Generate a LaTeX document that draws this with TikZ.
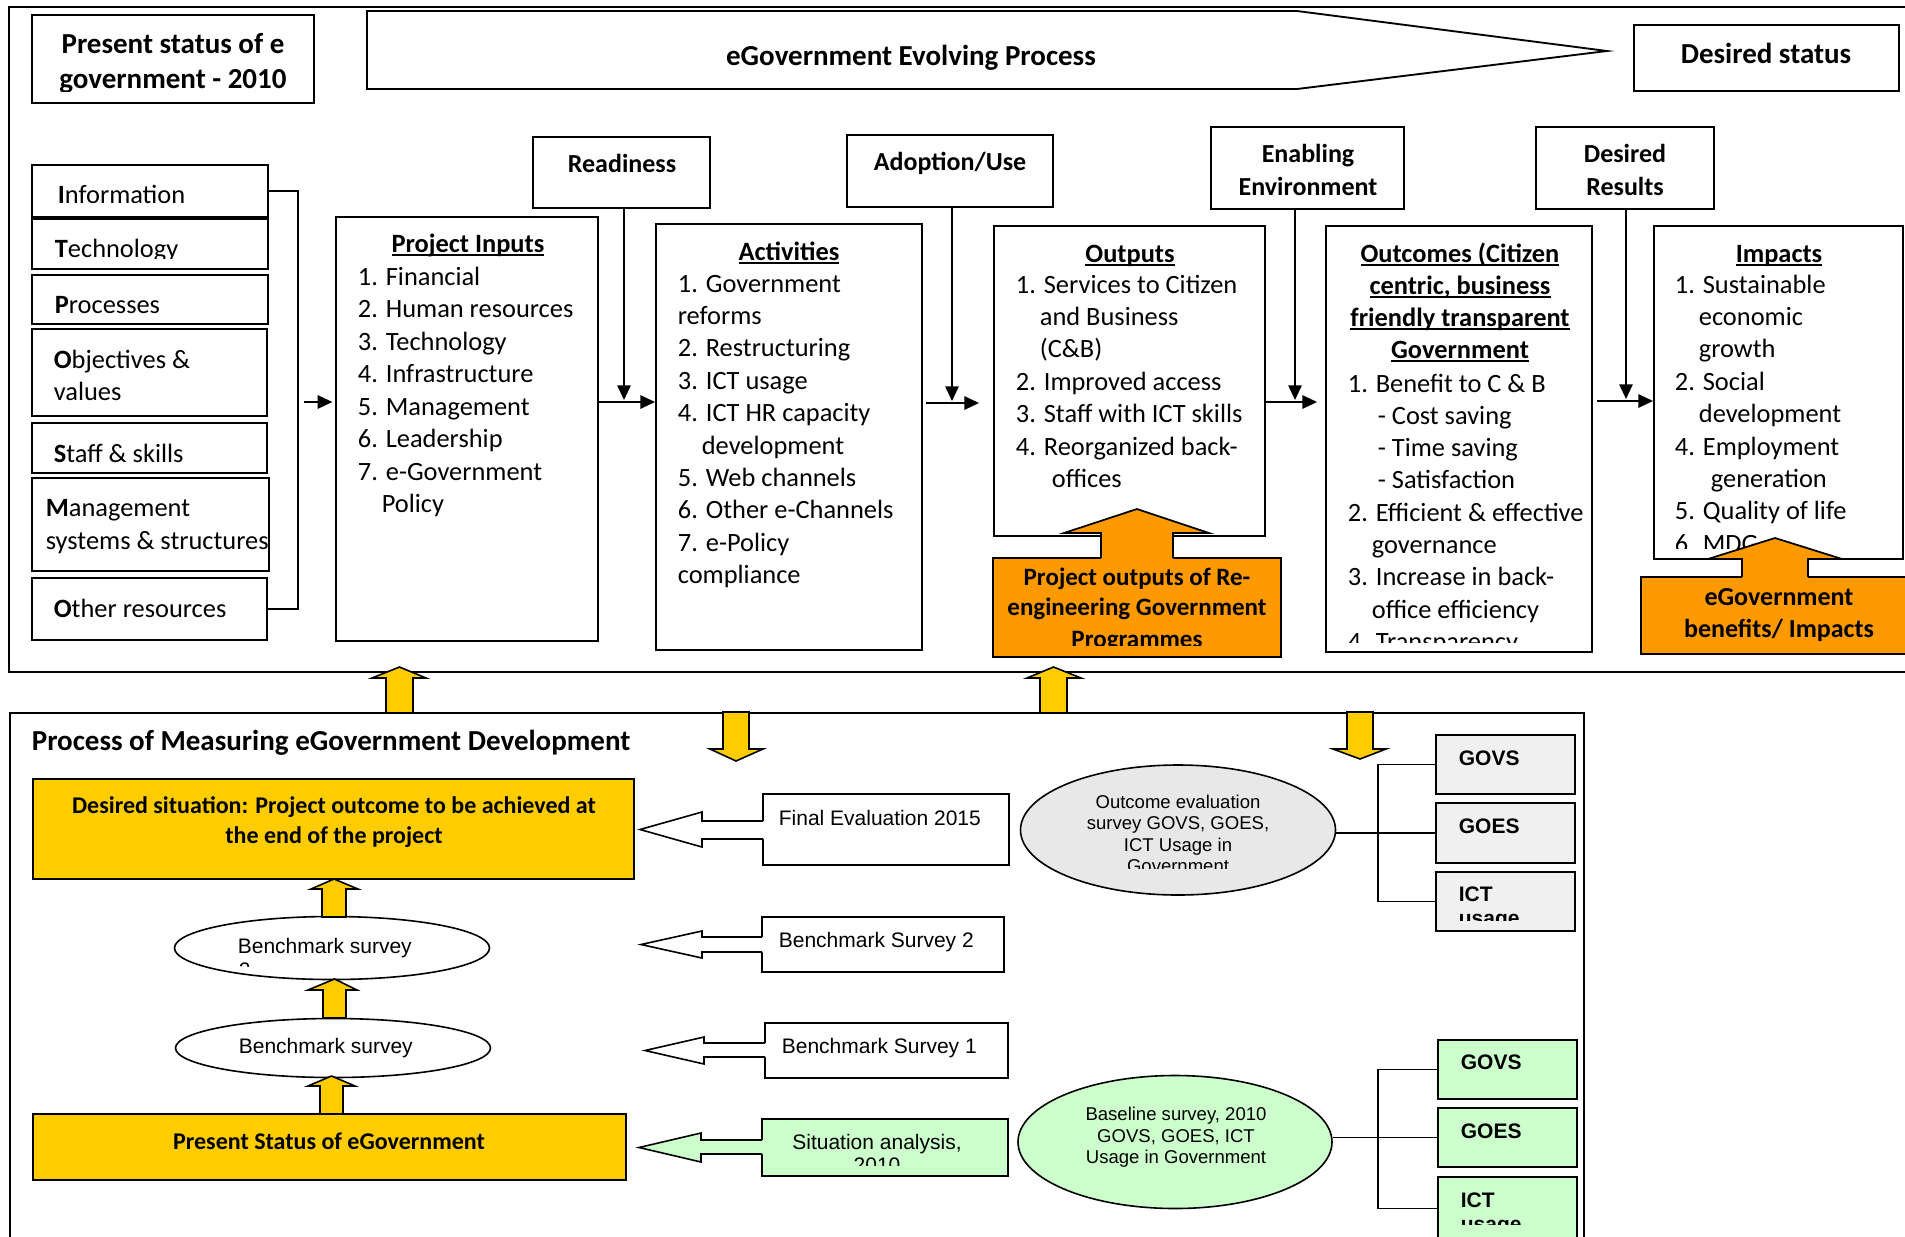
\documentclass[tikz,border=0pt]{standalone}
\usepackage{fontspec}
\setmainfont{Carlito}
\newfontfamily\arialf{Liberation Sans}
\usetikzlibrary{fit,arrows.meta,shapes.geometric}
\definecolor{yel}{HTML}{FFCC00}
\definecolor{org}{HTML}{FF9900}
\definecolor{grn}{HTML}{CCFFCC}
\definecolor{gry}{HTML}{F0F0F0}
\definecolor{gre}{HTML}{E8E8E8}
\newcommand\myul[1]{\setbox0\hbox{#1}\rlap{\rule[-3pt]{\wd0}{1.3pt}}\box0}
\newcommand\fTitle{\fontsize{21.75pt}{26pt}\selectfont\bfseries}
\newcommand\fBody{\fontsize{19.8pt}{24pt}\selectfont}
\newcommand\fLab{\fontsize{19.5pt}{24pt}\selectfont\bfseries}
\newcommand\fOrg{\fontsize{18.75pt}{22pt}\selectfont\bfseries}
\newcommand\fYel{\fontsize{18pt}{22pt}\selectfont\bfseries}
\newcommand\fAr{\arialf\fontsize{15.75pt}{18pt}\selectfont}
\newcommand\fEl{\arialf\fontsize{13.9pt}{16pt}\selectfont}
\newcommand\fGb{\arialf\fontsize{15.75pt}{18pt}\selectfont\bfseries}
\newcommand\tlist[4]{\foreach \xx/\itx [count=\k] in {#4} {\node[txt] (#1\k) at (\xx,{#2+#3*(\k-1)}) {\itx};}}
% left block arrow: right x, fill, shaft top, shaft bottom, head x, head top, head bottom, tip x
\newcommand\blockL[8]{%
 \fill[#2] (#1+2,#3) -- (#5,#3) -- (#5,#6) -- (#8,{(#6+#7)/2}) -- (#5,#7) -- (#5,#4) -- (#1+2,#4) -- cycle;
 \draw[line width=1.2pt] (#1,#3) -- (#5,#3) -- (#5,#6) -- (#8,{(#6+#7)/2}) -- (#5,#7) -- (#5,#4) -- (#1,#4);}
% up arrow: shaft left, shaft right, bottom y, head base y, wing left, wing right, tip y
\newcommand\upar[7]{\filldraw[fill=yel,line width=1.2pt] (#1,#3) -- (#1,#4) -- (#5,#4) -- ({(#1+#2)/2},#7) -- (#6,#4) -- (#2,#4) -- (#2,#3) -- cycle;}
\begin{document}
\begin{tikzpicture}[x=0.75pt,y=-0.75pt,line width=1.3pt,
  box/.style={draw,inner sep=0pt,line width=1.4pt},
  txt/.style={inner sep=0pt,anchor=base west,font=\fBody},
  ctr/.style={inner sep=0pt,anchor=base},
  arr/.style={-{Triangle[length=11pt,width=10pt]},line width=1.3pt},
  ell/.style={draw,ellipse,inner sep=0pt,line width=1.2pt}]
\useasboundingbox (0,0) rectangle (1905,1236);
\fill[white] (0,0) rectangle (1905,1236);
\begin{scope}
\clip (0,0) rectangle (1905,1236);
% ===== top frame =====
\node[box,fit={(9,7) (1930,672)}] (topframe) {};
\node[box,fit={(32,15) (314,103)}] (psbox) {};
\node[ctr,font=\fTitle] (ps1) at (173,53) {Present status of e};
\begin{scope}\clip (0,0) rectangle (1905,91);
\node[ctr,font=\fTitle] (ps2) at (173,88) {government - 2010};
\end{scope}
\draw[line width=1.4pt,fill=white] (367,11) -- (1297,11) -- (1607,51) -- (1297,89) -- (367,89) -- cycle;
\node[ctr,font=\fTitle] (evo) at (911,65) {eGovernment Evolving Process};
\node[box,fit={(1634,25) (1899,91)}] (dsbox) {};
\node[ctr,font=\fTitle] (ds) at (1766,63) {Desired status};
% label boxes
\node[box,fit={(533,137) (710,208)}] (rd) {};
\node[ctr,font=\fLab] (rdt) at (622,172) {Readiness};
\node[box,fit={(847,135) (1053,207)}] (ad) {};
\node[ctr,font=\fLab] (adt) at (950,170) {Adoption/Use};
\node[box,fit={(1211,127) (1404,209)}] (en) {};
\node[ctr,font=\fLab] (ent1) at (1308,162) {Enabling};
\node[ctr,font=\fLab] (ent2) at (1308,195) {Environment};
\node[box,fit={(1536,127) (1714,209)}] (dr) {};
\node[ctr,font=\fLab] (drt1) at (1625,162) {Desired};
\node[ctr,font=\fLab] (drt2) at (1625,195) {Results};
% left list
\node[box,fit={(32,165) (268,217)}] (b1) {};
\node[txt] (t1) at (57,203) {\textbf{I}nformation};
\node[box,fit={(32,219) (268,269)}] (b2) {};
\begin{scope}\clip (0,0) rectangle (1905,258);
\node[txt] (t2) at (54,257) {\textbf{T}echnology};
\end{scope}
\node[box,fit={(32,275) (268,324)}] (b3) {};
\node[txt] (t3) at (54,313) {\textbf{P}rocesses};
\node[box,fit={(32,329) (267,416)}] (b4) {};
\node[txt] (t4) at (53,368) {\textbf{O}bjectives \&};
\node[txt] (t4b) at (53,400) {values};
\node[box,fit={(32,423) (267,473)}] (b5) {};
\node[txt] (t5) at (53,462) {\textbf{S}taff \& skills};
\node[box,fit={(32,478) (269,571)}] (b6) {};
\node[txt] (t6) at (45,516) {\textbf{M}anagement};
\begin{scope}\clip (0,0) rectangle (268,1236);
\node[txt] (t6b) at (45,549) {systems \& structures};
\end{scope}
\node[box,fit={(32,578) (267,640)}] (b7) {};
\node[txt] (t7) at (53,617) {\textbf{O}ther resources};
% project inputs
\node[box,fit={(336,217) (598,641)}] (pin) {};
\node[ctr,font=\fBody\bfseries] (pint) at (468,252) {\myul{Project Inputs}};
\tlist{pi}{285}{32.5}{357/1. Financial, 357/2. Human resources, 357/3. Technology, 357/4. Infrastructure, 357/5. Management, 357/6. Leadership, 357/7. e-Government, 381/Policy}
% activities
\node[box,fit={(656,224) (922,650)}] (act) {};
\node[ctr,font=\fBody\bfseries] (actt) at (789,260) {\myul{Activities}};
\tlist{ac}{292}{32.4}{677/1. Government, 677/reforms, 677/2. Restructuring, 677/3. ICT usage, 677/4. ICT HR capacity, 701/development, 677/5. Web channels, 677/6. Other e-Channels, 677/7. e-Policy, 677/compliance}
% outputs
\node[box,fit={(994,226) (1265,536)}] (out) {};
\node[ctr,font=\fBody\bfseries] (outt) at (1130,262) {\myul{Outputs}};
\tlist{op}{293}{32.4}{1015/1. Services to Citizen, 1039/and Business, 1039/(C\&B), 1015/2. Improved access, 1015/3. Staff with ICT skills, 1015/4. Reorganized back-, 1051/offices}
% outcomes
\node[box,fit={(1326,226) (1592,652)}] (oc) {};
\node[ctr,font=\fBody\bfseries] (oct1) at (1460,262) {\myul{Outcomes (Citizen}};
\node[ctr,font=\fBody\bfseries] (oct2) at (1460,294) {\myul{centric, business}};
\node[ctr,font=\fBody\bfseries] (oct3) at (1460,326) {\myul{friendly transparent}};
\node[ctr,font=\fBody\bfseries] (oct4) at (1460,358) {\myul{Government}};
\begin{scope}\clip (0,0) rectangle (1905,642);
\tlist{ol}{392}{32.3}{1347/1. Benefit to C \& B, 1377/- Cost saving, 1377/- Time saving, 1377/- Satisfaction, 1347/2. Efficient \& effective, 1371/governance, 1347/3. Increase in back-, 1371/office efficiency, 1347/4. Transparency}
\end{scope}
% impacts
\node[box,fit={(1654,226) (1903,559)}] (imp) {};
\node[ctr,font=\fBody\bfseries] (impt) at (1779,262) {\myul{Impacts}};
\begin{scope}\clip (0,0) rectangle (1905,548);
\tlist{im}{293}{32.4}{1674/1. Sustainable, 1698/economic, 1698/growth, 1674/2. Social, 1698/development, 1674/4. Employment, 1710/generation, 1674/5. Quality of life, 1674/6. MDG}
\end{scope}
% connectors
\coordinate (lbx) at (298,402);
\coordinate (lbs) at (304,402);
\draw (b1.east) -- (b1.east -| lbx) -- (b7.east -| lbx) -- (b7.east);
\draw[arr,shorten >=2pt] (lbs) -- (pin.west |- lbs);
\coordinate (j1) at (624,402);
\draw[arr,shorten >=1.5pt] (rd.south -| j1) -- (j1);
\draw[arr] (pin.east |- j1) -- (act.west |- j1);
\coordinate (j2) at (952,403);
\draw[arr,shorten >=1.5pt] (ad.south -| j2) -- (j2);
\draw[arr,shorten <=2.25pt,shorten >=10.5pt] (act.east |- j2) -- (out.west |- j2);
\coordinate (j3) at (1295,402);
\draw[arr,shorten >=1.5pt] (en.south -| j3) -- (j3);
\draw[arr,shorten >=6pt] (out.east |- j3) -- (oc.west |- j3);
\coordinate (j4) at (1626,401);
\draw[arr,shorten >=1.5pt] (dr.south -| j4) -- (j4);
\draw[arr,shorten <=3pt] (oc.east |- j4) -- (imp.west |- j4);
% orange boxes
\node[box,fill=org,fit={(993,558) (1281,657)}] (po) {};
\fill[org] (1101,560) -- (1101,533) -- (1064,533) -- (1137,509) -- (1209,533) -- (1173,533) -- (1173,560) -- cycle;
\draw[line width=1.3pt] (1101,558) -- (1101,533) -- (1064,533) -- (1137,509) -- (1209,533) -- (1173,533) -- (1173,558);
\node[ctr,font=\fOrg] (po1) at (1137,585) {Project outputs of Re-};
\node[ctr,font=\fOrg] (po2) at (1137,615) {engineering Government};
\begin{scope}\clip (0,0) rectangle (1905,645);
\node[ctr,font=\fOrg] (po3) at (1137,647) {Programmes};
\end{scope}
\node[box,fill=org,fit={(1641,577) (1930,654)}] (eb) {};
\fill[org] (1742,579) -- (1742,559) -- (1708,559) -- (1775,538) -- (1842,559) -- (1808,559) -- (1808,579) -- cycle;
\draw[line width=1.3pt] (1742,577) -- (1742,559) -- (1708,559) -- (1775,538) -- (1842,559) -- (1808,559) -- (1808,577);
\node[ctr,font=\fLab] (eb1) at (1779,605) {eGovernment};
\node[ctr,font=\fLab] (eb2) at (1779,637) {benefits/ Impacts};
% ===== lower frame =====
\node[box,fit={(10,713) (1584,1260)}] (lowframe) {};
\node[txt,font=\fTitle] (pm) at (31,750) {Process of Measuring eGovernment Development};
\node[box,fill=yel,fit={(33,779) (634,879)}] (dsit) {};
\node[ctr,font=\fYel] (dsit1) at (334,813) {Desired situation: Project outcome to be achieved at};
\node[ctr,font=\fYel] (dsit2) at (334,843) {the end of the project};
\node[ell,fill=white,minimum width=236.25pt,minimum height=47.25pt] (e1) at (332,948) {};
\node[txt,font=\fAr] (e1t) at (237,953) {Benchmark survey};
\begin{scope}\clip (0,0) rectangle (1905,966);
\node[txt,font=\fAr] (e1t2) at (238,977) {2};
\end{scope}
\node[ell,fill=white,minimum width=236.25pt,minimum height=44.25pt] (e2) at (333,1048) {};
\node[txt,font=\fAr] (e2t) at (238,1053) {Benchmark survey};
\node[box,fill=yel,fit={(33,1114) (626,1180)}] (pst) {};
\node[ctr,font=\fYel] (pstt) at (329,1149) {Present Status of eGovernment};
% survey boxes
\node[box,line width=1.2pt,fit={(763,794) (1009,865)}] (fe) {};
\node[txt,font=\fAr] (fet) at (778,825) {Final Evaluation 2015};
\node[box,line width=1.2pt,fit={(762,917) (1004,972)}] (bs2) {};
\node[txt,font=\fAr] (bs2t) at (778,947) {Benchmark Survey 2};
\node[box,line width=1.2pt,fit={(765,1023) (1008,1078)}] (bs1) {};
\node[txt,font=\fAr] (bs1t) at (781,1053) {Benchmark Survey 1};
\node[box,line width=1.2pt,fill=grn,fit={(762,1119) (1008,1176)}] (sa) {};
\node[ctr,font=\fAr] (sat) at (877,1149) {Situation analysis,};
\begin{scope}\clip (0,0) rectangle (1905,1165);
\node[ctr,font=\fAr] (sat2) at (877,1172) {2010};
\end{scope}
\blockL{763}{white}{821}{839}{702}{812}{847}{640}
\blockL{762}{white}{937}{952}{702}{931}{958}{641}
\blockL{765}{white}{1043}{1057}{704}{1037}{1064}{645}
\blockL{762}{grn}{1140}{1154}{701}{1133}{1162}{639}
% ellipses right
\node[ell,fill=gre,minimum width=236.25pt,minimum height=97.5pt] (oe) at (1178,830) {};
\node[ctr,font=\fEl] (oe1) at (1178,808) {Outcome evaluation};
\node[ctr,font=\fEl] (oe2) at (1178,829) {survey GOVS, GOES,};
\node[ctr,font=\fEl] (oe3) at (1178,851) {ICT Usage in};
\begin{scope}\clip (0,0) rectangle (1905,868);
\node[ctr,font=\fEl] (oe4) at (1178,872) {Government};
\end{scope}
\node[ell,fill=grn,minimum width=235.5pt,minimum height=99.75pt] (be) at (1175,1142) {};
\node[ctr,font=\fEl] (be1) at (1176,1120) {Baseline survey, 2010};
\node[ctr,font=\fEl] (be2) at (1176,1142) {GOVS, GOES, ICT};
\node[ctr,font=\fEl] (be3) at (1176,1163) {Usage in Government};
% grey boxes
\node[box,line width=1.2pt,fill=gry,fit={(1436,735) (1575,794)}] (govs1) {};
\node[txt,font=\fGb] (govs1t) at (1458,765) {GOVS};
\node[box,line width=1.2pt,fill=gry,fit={(1436,803) (1575,863)}] (goes1) {};
\node[txt,font=\fGb] (goes1t) at (1458,833) {GOES};
\node[box,line width=1.2pt,fill=gry,fit={(1436,872) (1575,931)}] (ict1) {};
\node[txt,font=\fGb] (ict1t) at (1458,901) {ICT};
\begin{scope}\clip (0,0) rectangle (1905,920);
\node[txt,font=\fGb] (ict1u) at (1458,925) {usage};
\end{scope}
% green boxes
\node[box,line width=1.2pt,fill=grn,fit={(1438,1040) (1577,1099)}] (govs2) {};
\node[txt,font=\fGb] (govs2t) at (1460,1069) {GOVS};
\node[box,line width=1.2pt,fill=grn,fit={(1438,1108) (1577,1167)}] (goes2) {};
\node[txt,font=\fGb] (goes2t) at (1460,1138) {GOES};
\node[box,line width=1.2pt,fill=grn,fit={(1438,1177) (1577,1240)}] (ict2) {};
\node[txt,font=\fGb] (ict2t) at (1460,1207) {ICT};
\begin{scope}\clip (0,0) rectangle (1905,1224);
\node[txt,font=\fGb] (ict2u) at (1460,1231) {usage};
\end{scope}
% brackets
\coordinate (gx) at (1378,0);
\draw[line width=1.2pt] (govs1.west) -- (govs1.west -| gx) -- (ict1.west -| gx) -- (ict1.west);
\draw[line width=1.2pt] (oe.east |- goes1.west) -- (goes1.west);
\draw[line width=1.2pt] (govs2.west) -- (govs2.west -| gx) -- (ict2.west -| gx) -- (ict2.west);
\draw[line width=1.2pt] (be.east |- goes2.west) -- (goes2.west);
% yellow block arrows
\upar{386}{413}{713}{678}{372}{426}{667}
\upar{1040}{1067}{713}{678}{1027}{1081}{667}
\filldraw[fill=yel,line width=1.2pt] (723,712) -- (723,749) -- (710,749) -- (736,761) -- (763,749) -- (749,749) -- (749,712) -- cycle;
\filldraw[fill=yel,line width=1.2pt] (1347,712) -- (1347,749) -- (1333,749) -- (1360,759) -- (1386,749) -- (1373,749) -- (1373,712) -- cycle;
\upar{322}{346}{917}{889}{311}{358}{879}
\upar{323}{346}{1018}{990}{308}{357}{979}
\upar{320}{343}{1114}{1086}{308}{355}{1076}
\end{scope}
\end{tikzpicture}
\end{document}
